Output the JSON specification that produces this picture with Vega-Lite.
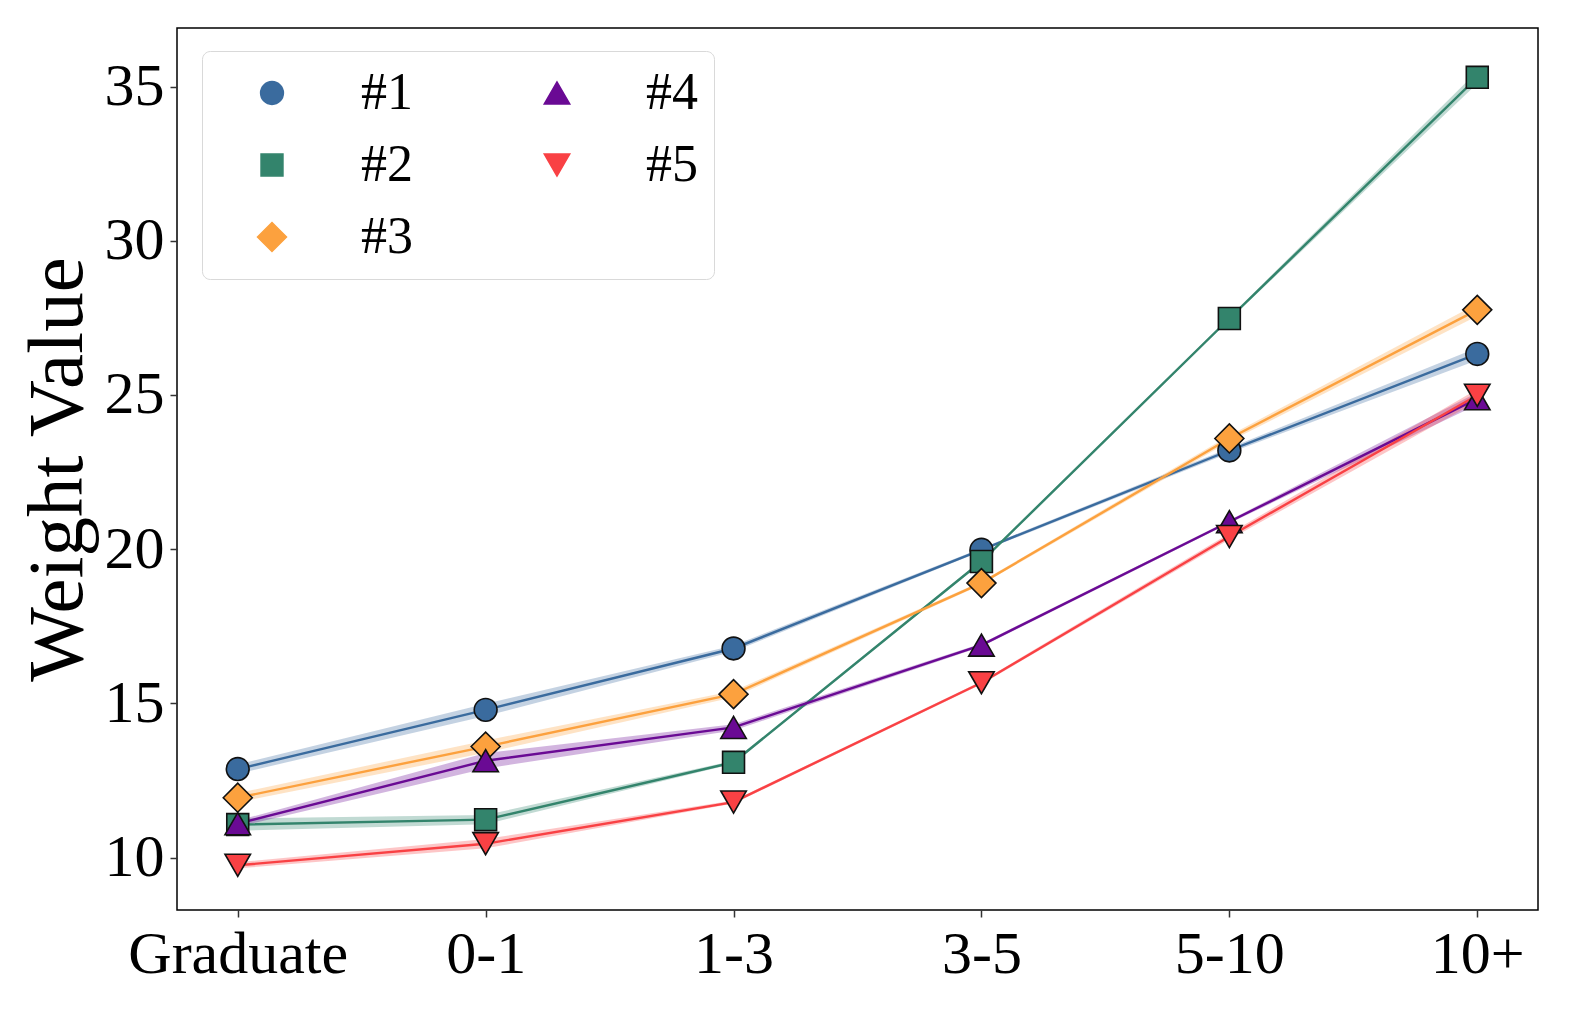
{
  "$schema": "https://vega.github.io/schema/vega-lite/v6.json",
  "width": 1361,
  "height": 882,
  "autosize": "none",
  "padding": {"left": 177, "top": 28, "right": 40, "bottom": 104},
  "background": "white",
  "config": {
    "view": {"stroke": "#000000", "strokeWidth": 1.5},
    "axis": {
      "grid": false,
      "domain": false,
      "labelFont": "Liberation Serif",
      "labelFontSize": 60,
      "labelColor": "#000000",
      "labelLimit": 0,
      "tickColor": "#333333",
      "tickSize": 7,
      "tickWidth": 1.5,
      "titleFont": "Liberation Serif",
      "titleFontWeight": "normal",
      "titleColor": "#000000"
    }
  },
  "data": {
    "values": [
      {"series": "#1", "exp": "Graduate", "value": 12.87, "lo": 12.72, "hi": 13.02},
      {"series": "#1", "exp": "0-1", "value": 14.79, "lo": 14.59, "hi": 14.99},
      {"series": "#1", "exp": "1-3", "value": 16.78, "lo": 16.68, "hi": 16.88},
      {"series": "#1", "exp": "3-5", "value": 19.98, "lo": 19.93, "hi": 20.03},
      {"series": "#1", "exp": "5-10", "value": 23.2, "lo": 23.12, "hi": 23.28},
      {"series": "#1", "exp": "10+", "value": 26.33, "lo": 26.13, "hi": 26.53},
      {"series": "#2", "exp": "Graduate", "value": 11.07, "lo": 10.87, "hi": 11.27},
      {"series": "#2", "exp": "0-1", "value": 11.23, "lo": 11.08, "hi": 11.38},
      {"series": "#2", "exp": "1-3", "value": 13.09, "lo": 13.04, "hi": 13.14},
      {"series": "#2", "exp": "3-5", "value": 19.6, "lo": 19.55, "hi": 19.65},
      {"series": "#2", "exp": "5-10", "value": 27.48, "lo": 27.43, "hi": 27.53},
      {"series": "#2", "exp": "10+", "value": 35.3, "lo": 35.1, "hi": 35.5},
      {"series": "#3", "exp": "Graduate", "value": 11.94, "lo": 11.79, "hi": 12.09},
      {"series": "#3", "exp": "0-1", "value": 13.6, "lo": 13.4, "hi": 13.8},
      {"series": "#3", "exp": "1-3", "value": 15.3, "lo": 15.2, "hi": 15.4},
      {"series": "#3", "exp": "3-5", "value": 18.9, "lo": 18.85, "hi": 18.95},
      {"series": "#3", "exp": "5-10", "value": 23.59, "lo": 23.49, "hi": 23.69},
      {"series": "#3", "exp": "10+", "value": 27.76, "lo": 27.56, "hi": 27.96},
      {"series": "#4", "exp": "Graduate", "value": 11.1, "lo": 11.0, "hi": 11.2},
      {"series": "#4", "exp": "0-1", "value": 13.14, "lo": 12.89, "hi": 13.39},
      {"series": "#4", "exp": "1-3", "value": 14.22, "lo": 14.12, "hi": 14.32},
      {"series": "#4", "exp": "3-5", "value": 16.89, "lo": 16.84, "hi": 16.94},
      {"series": "#4", "exp": "5-10", "value": 20.89, "lo": 20.84, "hi": 20.94},
      {"series": "#4", "exp": "10+", "value": 24.88, "lo": 24.68, "hi": 25.08},
      {"series": "#5", "exp": "Graduate", "value": 9.75, "lo": 9.65, "hi": 9.85},
      {"series": "#5", "exp": "0-1", "value": 10.45, "lo": 10.3, "hi": 10.6},
      {"series": "#5", "exp": "1-3", "value": 11.8, "lo": 11.75, "hi": 11.85},
      {"series": "#5", "exp": "3-5", "value": 15.67, "lo": 15.62, "hi": 15.72},
      {"series": "#5", "exp": "5-10", "value": 20.41, "lo": 20.31, "hi": 20.51},
      {"series": "#5", "exp": "10+", "value": 24.99, "lo": 24.79, "hi": 25.19}
    ]
  },
  "encoding": {
    "x": {
      "field": "exp",
      "type": "ordinal",
      "sort": ["Graduate", "0-1", "1-3", "3-5", "5-10", "10+"],
      "scale": {"type": "point", "padding": 0.245},
      "axis": {"title": null, "labelAngle": 0, "labelPadding": 8}
    },
    "color": {
      "field": "series",
      "type": "nominal",
      "scale": {
        "domain": ["#1", "#2", "#3", "#4", "#5"],
        "range": ["#3A6B9E", "#33846C", "#FCA13E", "#6A0A94", "#F94144"]
      },
      "legend": {
        "title": null,
        "orient": "none",
        "legendX": 25,
        "legendY": 23,
        "columns": 2,
        "labelFont": "Liberation Serif",
        "labelFontSize": 52,
        "labelColor": "#000000",
        "symbolSize": 576,
        "symbolOpacity": 1,
        "labelOffset": 63,
        "symbolOffset": 28,
        "rowPadding": 20,
        "columnPadding": 90,
        "padding": 16,
        "strokeColor": "#d9d9d9",
        "fillColor": "#ffffff",
        "cornerRadius": 8
      }
    }
  },
  "layer": [
    {
      "mark": {"type": "area", "opacity": 0.3, "interpolate": "linear"},
      "encoding": {
        "y": {"field": "lo", "type": "quantitative"},
        "y2": {"field": "hi"},
        "detail": {"field": "series"}
      }
    },
    {
      "mark": {"type": "line", "strokeWidth": 2.4},
      "encoding": {
        "y": {"field": "value", "type": "quantitative"}
      }
    },
    {
      "mark": {"type": "point", "filled": true, "opacity": 1, "stroke": "#111111", "strokeWidth": 1.6},
      "encoding": {
        "y": {
          "field": "value",
          "type": "quantitative",
          "scale": {"domain": [8.3, 36.9], "nice": false, "zero": false},
          "axis": {"title": "Weight Value", "titleFontSize": 79, "titlePadding": 6, "values": [10, 15, 20, 25, 30, 35], "labelPadding": 6}
        },
        "shape": {
          "field": "series",
          "type": "nominal",
          "scale": {
            "domain": ["#1", "#2", "#3", "#4", "#5"],
            "range": ["circle", "square", "diamond", "triangle-up", "triangle-down"]
          },
          "legend": null
        },
        "size": {
          "field": "series",
          "type": "nominal",
          "scale": {
            "type": "ordinal",
            "domain": ["#1", "#2", "#3", "#4", "#5"],
            "range": [520, 480, 840, 650, 650]
          },
          "legend": null
        }
      }
    }
  ]
}
